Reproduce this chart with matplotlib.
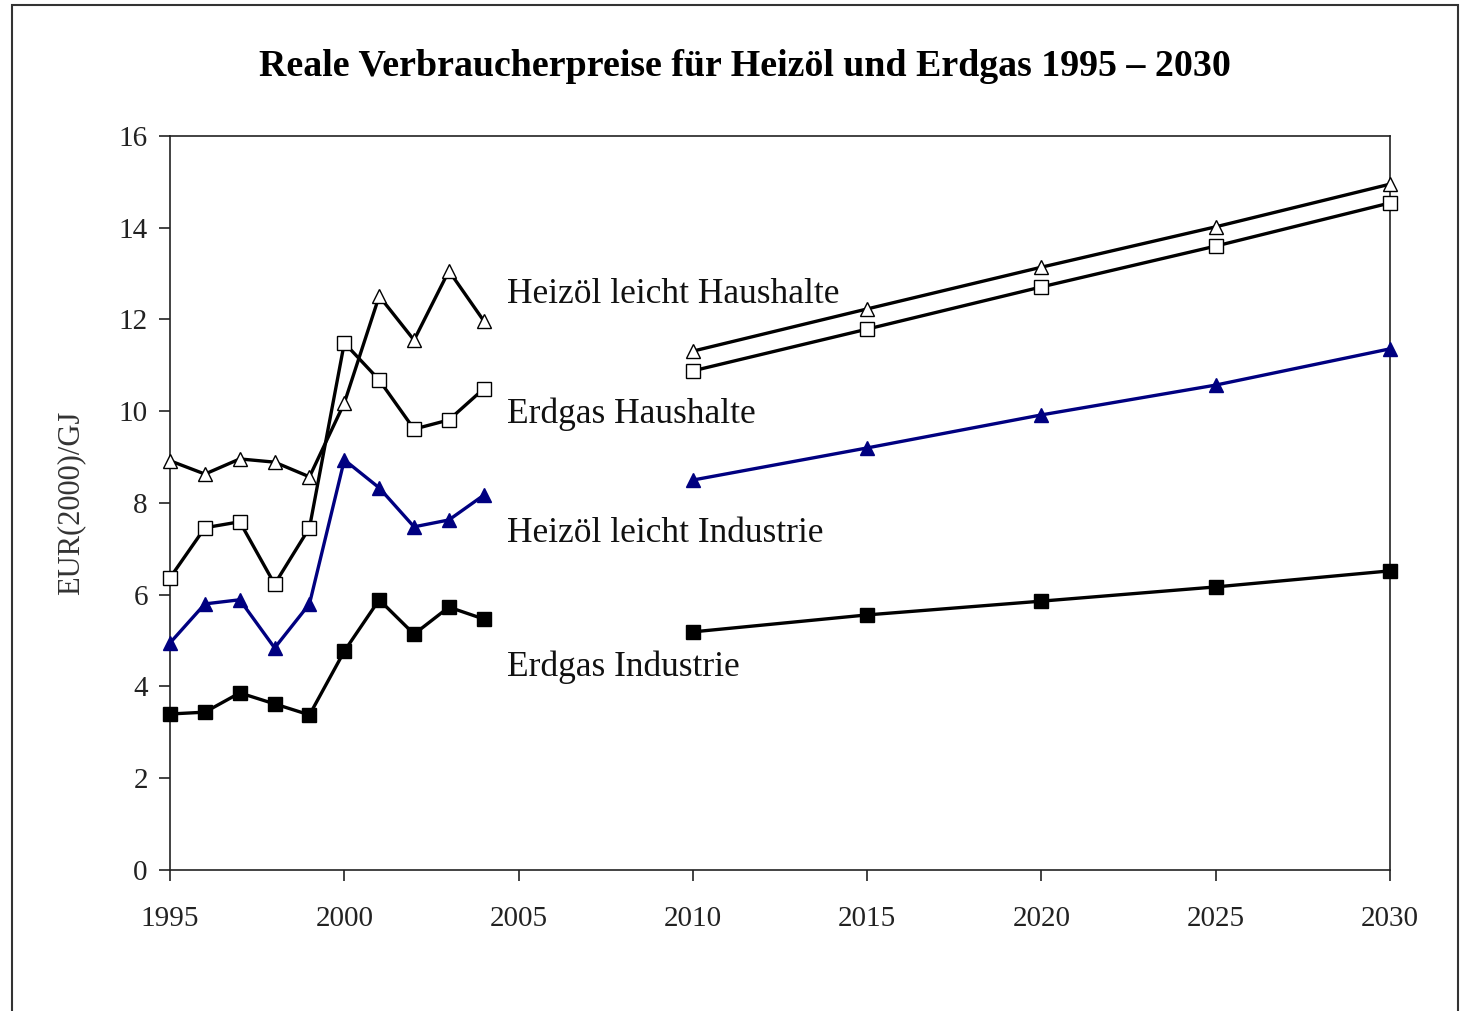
import matplotlib.pyplot as plt
from matplotlib.patches import Rectangle

plt.rcParams['font.family'] = ['Liberation Serif', 'DejaVu Serif']

years_hist = [1995, 1996, 1997, 1998, 1999, 2000, 2001, 2002, 2003, 2004]
years_proj = [2010, 2015, 2020, 2025, 2030]

# Heizöl leicht Haushalte
hh_oil_hist = [8.92, 8.63, 8.96, 8.89, 8.57, 10.18, 12.51, 11.55, 13.06, 11.97]
hh_oil_proj = [11.31, 12.23, 13.14, 14.02, 14.95]
# Erdgas Haushalte
hh_gas_hist = [6.37, 7.46, 7.59, 6.23, 7.46, 11.49, 10.68, 9.61, 9.81, 10.49]
hh_gas_proj = [10.88, 11.79, 12.71, 13.60, 14.54]
# Heizöl leicht Industrie
ind_oil_hist = [4.95, 5.80, 5.89, 4.84, 5.80, 8.94, 8.33, 7.48, 7.63, 8.17]
ind_oil_proj = [8.50, 9.20, 9.92, 10.57, 11.36]
# Erdgas Industrie
ind_gas_hist = [3.40, 3.44, 3.86, 3.62, 3.38, 4.77, 5.89, 5.14, 5.73, 5.47]
ind_gas_proj = [5.19, 5.56, 5.86, 6.17, 6.52]

labels = ["Heizöl leicht Haushalte", "Erdgas Haushalte",
          "Heizöl leicht Industrie", "Erdgas Industrie"]
label_y = [12.55, 9.93, 7.34, 4.42]

fig = plt.figure(figsize=(14.61, 10.11), dpi=100)
ax = fig.add_axes([0.1164, 0.1395, 0.835, 0.726])

series = [
    (hh_oil_hist, hh_oil_proj, 'black', '^', 'white'),
    (hh_gas_hist, hh_gas_proj, 'black', 's', 'white'),
    (ind_oil_hist, ind_oil_proj, '#000080', '^', '#000080'),
    (ind_gas_hist, ind_gas_proj, 'black', 's', 'black'),
]
for hist, proj, col, mk, face in series:
    for xs, ys in ((years_hist, hist), (years_proj, proj)):
        ax.plot(xs, ys, color=col, lw=2.4, marker=mk, ms=10, clip_on=False,
                mfc=face, mec='black' if face == 'white' else col, mew=1.0,
                zorder=3)

for txt, y in zip(labels, label_y):
    ax.text(2004.67, y, txt, fontsize=25.5, va='center', ha='left', color='#111111')

ax.set_xlim(1995, 2030)
ax.set_ylim(0, 16)
ax.set_xticks(range(1995, 2031, 5))
ax.set_yticks(range(0, 17, 2))
ax.tick_params(axis='both', direction='out', length=8, width=1.2,
               labelsize=21, colors='#222222')
ax.tick_params(axis='x', pad=18)
ax.tick_params(axis='y', pad=8)
for s in ax.spines.values():
    s.set_linewidth(1.2)
    s.set_color('#222222')
ax.set_ylabel("EUR(2000)/GJ", fontsize=22, color='#333333', labelpad=24)

fig.text(0.51, 0.934, "Reale Verbraucherpreise für Heizöl und Erdgas 1995 – 2030",
         ha='center', va='center', fontsize=27.3, fontweight='bold')

fig.patches.append(Rectangle((0.0082, -0.02), 0.9898, 1.015, transform=fig.transFigure,
                             fill=False, edgecolor='#333333', lw=1.5))

fig.savefig('out.png', dpi=100)
